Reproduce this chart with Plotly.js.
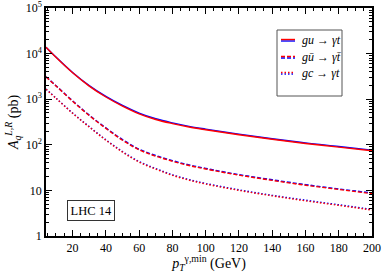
<!DOCTYPE html>
<html>
<head>
<meta charset="utf-8">
<script src="https://cdn.plot.ly/plotly-3.0.1.min.js"></script>
<style>html,body{margin:0;padding:0;background:#fff}#chart{width:382px;height:273px}</style>
</head>
<body>
<div id="chart"></div>
<script>
// pT^{gamma,min} grid (GeV)
const ptMin = [4, 10, 20, 30, 40, 50, 60, 70, 80, 90, 100, 120, 140, 160, 180, 200];

// red curves (pb)
const guRed    = [13800, 8280, 3785, 1941, 1117, 705, 479, 359, 292, 245.5, 214, 166, 132, 107, 89.1, 74.1];
const gubarRed = [3090, 1950, 902, 437, 229, 126, 77.6, 56.2, 43.6, 35.1, 29.5, 21.6, 16.6, 13.0, 10.5, 8.5];
const gcRed    = [1660, 1047, 490, 245, 126, 69.2, 41.7, 29.2, 21.4, 16.8, 13.8, 10.0, 7.6, 5.9, 4.7, 3.7];

// blue curves (pb)
const guBlue    = [13850, 8400, 3860, 1990, 1150, 728, 496, 372, 302, 254, 221, 171, 136, 110, 91.8, 76.3];
const gubarBlue = [3100, 1980, 920, 447, 235, 130, 80.2, 58.1, 45.0, 36.2, 30.4, 22.2, 17.1, 13.4, 10.8, 8.75];
const gcBlue    = [1665, 1060, 498, 250, 129, 71.2, 43.0, 30.1, 22.0, 17.3, 14.2, 10.3, 7.8, 6.1, 4.85, 3.8];

const legendLabels = ['<i>gu</i> \u2192 <i>\u03b3t</i>', '<i>g\u016b</i> \u2192 <i>\u03b3t\u0304</i>', '<i>gc</i> \u2192 <i>\u03b3t</i>'];
const yTickVals = [1, 10, 100, 1000, 10000, 100000];
const yTickText = ['1', '10', '10<sup>2</sup>', '10<sup>3</sup>', '10<sup>4</sup>', '10<sup>5</sup>'];
const xTickVals = [20, 40, 60, 80, 100, 120, 140, 160, 180, 200];

const RED = '#ff0000', BLUE = '#0000ff';
const FONT = 'Liberation Serif';

function tr(y, color, dash) {
  return {x: ptMin, y: y, type: 'scatter', mode: 'lines', showlegend: false,
          line: {color: color, width: 1.4, dash: dash, shape: 'spline', smoothing: 1}};
}
const data = [
  tr(guBlue, BLUE, 'solid'), tr(guRed, RED, 'solid'),
  tr(gubarBlue, BLUE, '4px,2px'), tr(gubarRed, RED, '4px,2px'),
  tr(gcBlue, BLUE, '1.5px,2px'), tr(gcRed, RED, '1.5px,2px')
];

const minorY = [];
for (let d = 0; d < 5; d++) for (let k = 2; k <= 9; k++) minorY.push(k * Math.pow(10, d));

// manual legend
const L = 46, R = 372, T = 8, B = 236;
const px = v => (v - L) / (R - L);
const py = v => (B - v) / (B - T);
const shapes = [
  {type: 'rect', xref: 'paper', yref: 'paper', x0: px(277), x1: px(342), y0: py(96), y1: py(30),
   line: {color: '#555', width: 1}, fillcolor: 'white'}
];
const rows = [40, 57, 73];
const dashes = ['solid', '4px,2px', '1.5px,2px'];
const annotations = [];
rows.forEach((r, i) => {
  shapes.push({type: 'line', xref: 'paper', yref: 'paper', x0: px(281), x1: px(295), y0: py(r + 1), y1: py(r + 1),
               line: {color: BLUE, width: 1.4, dash: dashes[i]}});
  shapes.push({type: 'line', xref: 'paper', yref: 'paper', x0: px(281), x1: px(295), y0: py(r - 0.5), y1: py(r - 0.5),
               line: {color: RED, width: 1.4, dash: dashes[i]}});
  annotations.push({xref: 'paper', yref: 'paper', x: px(300), y: py(r), xanchor: 'left', yanchor: 'middle',
                    text: legendLabels[i], showarrow: false, font: {family: FONT, size: 12, color: '#000'}});
});
annotations.push({xref: 'paper', yref: 'paper', x: px(90.5), y: py(210.5), xanchor: 'center', yanchor: 'middle',
                  text: 'LHC 14', showarrow: false, font: {family: FONT, size: 12.5, color: '#000'},
                  bordercolor: '#333', borderwidth: 1, borderpad: 2.5, bgcolor: 'white'});

const layout = {
  width: 382, height: 273,
  margin: {l: 46, r: 10, t: 8, b: 37},
  paper_bgcolor: 'white', plot_bgcolor: 'white',
  font: {family: FONT, size: 12, color: '#000'},
  xaxis: {
    range: [4, 200], showgrid: false, zeroline: false,
    showline: true, linecolor: '#000', linewidth: 1.5, mirror: 'allticks',
    ticks: 'inside', ticklen: 6, tickwidth: 1, tickcolor: '#000',
    tickmode: 'array', tickvals: xTickVals, ticktext: xTickVals.map(String),
    tickfont: {family: FONT, size: 12, color: '#000'},
    minor: {ticks: 'inside', ticklen: 3, dtick: 5, tick0: 0, tickcolor: '#000', showgrid: false},
    title: {text: '<i>p</i><sub><i>T</i></sub><sup>\u03b3,min</sup> (GeV)', font: {family: FONT, size: 14}, standoff: 4}
  },
  yaxis: {
    type: 'log', range: [0, 5], showgrid: false, zeroline: false,
    showline: true, linecolor: '#000', linewidth: 1.5, mirror: 'allticks',
    ticks: 'inside', ticklen: 6, tickwidth: 1, tickcolor: '#000',
    tickmode: 'array', tickvals: yTickVals, ticktext: yTickText,
    tickfont: {family: FONT, size: 12, color: '#000'},
    minor: {ticks: 'inside', ticklen: 3, tickmode: 'array', tickvals: minorY, tickcolor: '#000', showgrid: false},
    title: {text: '<i>A</i><sub><i>q</i></sub><sup><i>L,R</i></sup> (pb)', font: {family: FONT, size: 14}, standoff: 4}
  },
  shapes: shapes,
  annotations: annotations,
  showlegend: false
};

Plotly.newPlot('chart', data, layout, {displayModeBar: false});
</script>
</body>
</html>
